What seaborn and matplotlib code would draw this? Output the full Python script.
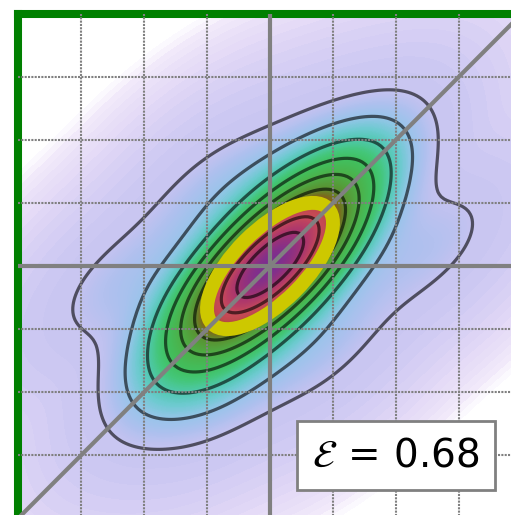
import numpy as np
import pandas as pd
import matplotlib
matplotlib.use('Agg')
import matplotlib.pyplot as plt
import matplotlib.colors as mcolors
from matplotlib.patches import Ellipse
import seaborn as sns

# 样本点 (手工读取的散点云)
x_vals = [-1.48, -0.86, -0.99, -0.99, -0.49, -0.55, -0.14, -0.48, -0.14, -0.35, -0.01, 0.00,
          -0.01, 0.31, 0.10, 0.61, 0.31, 0.30, 0.77, 0.69, 1.01, 0.90, 1.40,
          0.09, -0.09, 0.24, -0.24, -0.56, 0.56,
          -2.45, -0.95, 0.30, 2.55, 0.85, -0.64, 1.35, -1.50]
y_vals = [-1.23, -1.29, -0.82, -0.48, -0.75, -0.47, -0.65, -0.14, -0.31, 0.07, -0.10, 0.00,
          0.12, -0.03, 0.35, 0.01, 0.48, 0.72, 0.47, 0.78, 0.80, 1.24, 1.32,
          0.13, -0.13, 0.33, -0.33, -0.35, 0.35,
          -0.30, 1.15, 1.55, 0.30, -1.25, -1.91, 1.75, -1.85]
corr_value = 0.68
label_text = r'$\mathcal{E}\,=\,0.68$'

df = pd.DataFrame({'x': x_vals, 'y': y_vals})

# 颜色按密度质量比例分段: 白 -> 淡紫 -> 蓝 -> 青 -> 绿 -> 褐 -> 红 -> 紫
cmap = mcolors.LinearSegmentedColormap.from_list('dens', [
    (0.00, '#ffffff'), (0.01, '#f1e9fa'), (0.025, '#e2d8f6'), (0.04, '#d0cbf3'),
    (0.05, '#c4c2f0'), (0.10, '#aec0ee'), (0.156, '#98c4ea'), (0.21, '#6ecad0'),
    (0.26, '#50c8b0'), (0.32, '#44c67a'), (0.37, '#40c060'), (0.47, '#4cb048'),
    (0.58, '#5a9030'), (0.63, '#7a6a1c'), (0.68, '#9a5020'), (0.74, '#c04850'),
    (0.79, '#c84a58'), (0.89, '#a8346e'), (1.00, '#7a2e90')], N=1024)

# 填充分层: 外围用对数间隔, 内部等质量间隔
fill_levels = list(np.geomspace(1e-7, 0.05, 16)[:-1]) + list(np.linspace(0.05, 1, 286))

fig = plt.figure(figsize=(5.11, 5.15), dpi=100)
ax = fig.add_axes([18 / 511, 1 - 518.5 / 515, 504 / 511, 505 / 515])

sns.kdeplot(data=df, x='x', y='y', fill=True, levels=fill_levels, cmap=cmap,
            bw_adjust=1.5, cut=8, gridsize=250, ax=ax, zorder=1)
cset = ax.collections[0]
cset.set_norm(mcolors.BoundaryNorm(cset.levels, cset.cmap.N))
cset.changed()
sns.kdeplot(data=df, x='x', y='y', levels=10, thresh=0.05, color='black',
            alpha=0.6, linewidths=2.3, bw_adjust=1.5, ax=ax, zorder=2)

# 协方差椭圆
lam_big = 1 + corr_value
lam_small = 1 - corr_value
ell = Ellipse((0, 0), 2 * np.sqrt(lam_big), 2 * np.sqrt(lam_small), angle=45,
              fill=False, edgecolor='#cdc800', linewidth=10, zorder=4)
ax.add_patch(ell)

ax.axhline(0, color='gray', lw=3, zorder=5)
ax.axvline(0, color='gray', lw=3, zorder=5)
ax.axline((0, 0), slope=1, color='gray', lw=3, zorder=5)

ax.set_xlim(-4, 4)
ax.set_ylim(-4, 4)
ax.set_xticks(range(-3, 4))
ax.set_yticks(range(-3, 4))
ax.tick_params(length=0, labelbottom=False, labelleft=False)
ax.set_xlabel('')
ax.set_ylabel('')
ax.grid(True, color='gray', ls=(0, (1, 0.6)), lw=1.5, zorder=3)
ax.set_axisbelow(False)
for sp in ax.spines.values():
    sp.set_color('green')
    sp.set_linewidth(5.8)

ax.text(0.75, 0.124, label_text, transform=ax.transAxes, fontsize=28,
        ha='center', va='center', zorder=6,
        bbox=dict(boxstyle='square,pad=0.4', fc='white', ec='gray', lw=2))

fig.savefig('out.png', dpi=100)
